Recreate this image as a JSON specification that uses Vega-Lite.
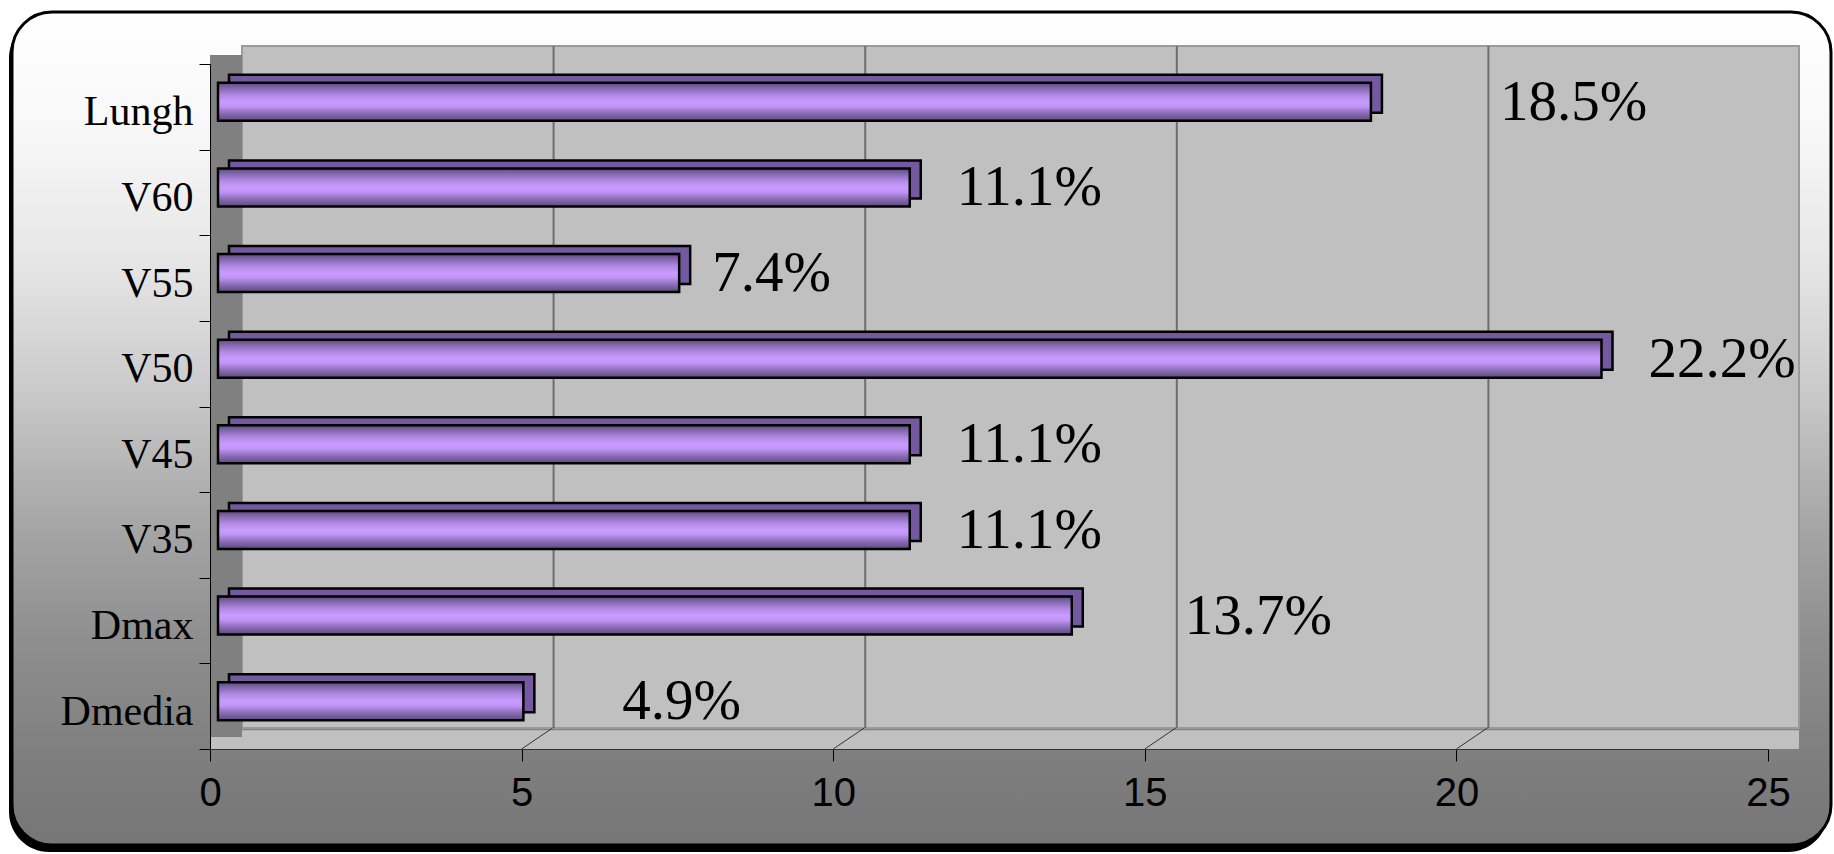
{
  "$schema": "https://vega.github.io/schema/vega-lite/v6.json",
  "autosize": {"type": "none"},
  "padding": {"left": 210, "top": 64, "right": 66, "bottom": 105},
  "width": 1558,
  "height": 685,
  "background": "white",
  "config": {"view": {"stroke": null}},
  "datasets": {
    "bars": [
      {"cat": "Lungh", "value": 18.5, "label": "18.5%"},
      {"cat": "V60", "value": 11.1, "label": "11.1%"},
      {"cat": "V55", "value": 7.4, "label": "7.4%"},
      {"cat": "V50", "value": 22.2, "label": "22.2%"},
      {"cat": "V45", "value": 11.1, "label": "11.1%"},
      {"cat": "V35", "value": 11.1, "label": "11.1%"},
      {"cat": "Dmax", "value": 13.7, "label": "13.7%"},
      {"cat": "Dmedia", "value": 4.9, "label": "4.9%"}
    ],
    "grid": [{"tick": 5}, {"tick": 10}, {"tick": 15}, {"tick": 20}],
    "one": [{}]
  },
  "resolve": {"scale": {"y": "independent"}, "axis": {"x": "independent", "y": "independent"}},
  "layer": [
    {
      "data": {"name": "one"},
      "layer": [
        {
          "mark": {"type": "rect", "fill": "#000000", "cornerRadius": 40},
          "encoding": {
            "x": {"datum": -3.2253, "type": "quantitative", "scale": {"domain": [0, 25], "nice": false, "zero": false}, "axis": null},
            "x2": {"datum": 25.9628},
            "y": {"datum": -0.5372, "type": "quantitative", "scale": {"domain": [0, 8], "reverse": true, "nice": false, "zero": false}, "axis": null},
            "y2": {"datum": 9.2029}
          }
        },
        {
          "mark": {
            "type": "rect", "cornerRadius": 40, "stroke": "#000000", "strokeWidth": 3,
            "fill": {"gradient": "linear", "x1": 0, "y1": 0, "x2": 0, "y2": 1, "stops": [
              {"offset": 0, "color": "#ffffff"},
              {"offset": 0.15, "color": "#f7f7f7"},
              {"offset": 0.3, "color": "#e6e6e6"},
              {"offset": 0.45, "color": "#cbcbcb"},
              {"offset": 0.6, "color": "#a9a9a9"},
              {"offset": 0.75, "color": "#8f8f8f"},
              {"offset": 0.9, "color": "#7e7e7e"},
              {"offset": 1, "color": "#767676"}
            ]}
          },
          "encoding": {
            "x": {"datum": -3.1772, "type": "quantitative", "scale": {"domain": [0, 25], "nice": false, "zero": false}, "axis": null},
            "x2": {"datum": 26.0109},
            "y": {"datum": -0.6073, "type": "quantitative", "scale": {"domain": [0, 8], "reverse": true, "nice": false, "zero": false}, "axis": null},
            "y2": {"datum": 9.1212}
          }
        },
        {
          "mark": {"type": "rect", "fill": "#c0c0c0", "stroke": "#9a9a9a", "strokeWidth": 2},
          "encoding": {
            "x": {"datum": 0.5135, "type": "quantitative", "scale": {"domain": [0, 25], "nice": false, "zero": false}, "axis": null},
            "x2": {"datum": 25.4974},
            "y": {"datum": -0.2102, "type": "quantitative", "scale": {"domain": [0, 8], "reverse": true, "nice": false, "zero": false}, "axis": null},
            "y2": {"datum": 7.7547}
          }
        },
        {
          "mark": {"type": "rect", "fill": "#c0c0c0"},
          "encoding": {
            "x": {"datum": 0, "type": "quantitative", "scale": {"domain": [0, 25], "nice": false, "zero": false}, "axis": null},
            "x2": {"datum": 25.4974},
            "y": {"datum": 7.78, "type": "quantitative", "scale": {"domain": [0, 8], "reverse": true, "nice": false, "zero": false}, "axis": null},
            "y2": {"datum": 8}
          }
        },
        {
          "mark": {"type": "rect", "fill": "#808080"},
          "encoding": {
            "x": {"datum": 0, "type": "quantitative", "scale": {"domain": [0, 25], "nice": false, "zero": false}, "axis": null},
            "x2": {"datum": 0.5135},
            "y": {"datum": -0.105, "type": "quantitative", "scale": {"domain": [0, 8], "reverse": true, "nice": false, "zero": false}, "axis": null},
            "y2": {"datum": 7.86}
          }
        },
        {
          "data": {"name": "grid"},
          "mark": {"type": "rule", "color": "#6e6e6e", "strokeWidth": 2, "xOffset": 32},
          "encoding": {
            "x": {"field": "tick", "type": "quantitative", "scale": {"domain": [0, 25], "nice": false, "zero": false}, "axis": null},
            "y": {"datum": -0.2102, "type": "quantitative", "scale": {"domain": [0, 8], "reverse": true, "nice": false, "zero": false}, "axis": null},
            "y2": {"datum": 7.7547}
          }
        },
        {
          "data": {"name": "grid"},
          "mark": {"type": "rule", "color": "#333333", "strokeWidth": 1, "x2Offset": 31},
          "encoding": {
            "x": {"field": "tick", "type": "quantitative", "scale": {"domain": [0, 25], "nice": false, "zero": false}, "axis": null},
            "x2": {"field": "tick"},
            "y": {"datum": 8, "type": "quantitative", "scale": {"domain": [0, 8], "reverse": true, "nice": false, "zero": false}, "axis": null},
            "y2": {"datum": 7.7547}
          }
        }
      ]
    },
    {
      "data": {"name": "bars"},
      "encoding": {
        "y": {
          "field": "cat", "type": "nominal", "sort": null,
          "scale": {"paddingInner": 0, "paddingOuter": 0},
          "axis": {
            "title": null, "zindex": 1, "tickBand": "extent",
            "labelFont": "Liberation Serif", "labelFontSize": 42, "labelColor": "#000000",
            "labelPadding": 6, "labelOffset": 5,
            "tickSize": 11, "tickColor": "#000000", "tickWidth": 1,
            "domainColor": "#000000", "domainWidth": 1, "grid": false
          }
        },
        "x": {
          "field": "value", "type": "quantitative",
          "scale": {"domain": [0, 25], "nice": false, "zero": false},
          "axis": {
            "title": null, "zindex": 1, "grid": false, "values": [0, 5, 10, 15, 20, 25],
            "labelFont": "Liberation Sans", "labelFontSize": 40, "labelColor": "#000000",
            "labelPadding": 12, "tickSize": 12, "tickColor": "#000000", "tickWidth": 1,
            "domainColor": "#333333", "domainWidth": 1, "labelFlush": false
          }
        }
      },
      "layer": [
        {
          "mark": {"type": "bar", "height": {"band": 0.444}, "xOffset": 19, "x2Offset": 21, "yOffset": -13, "fill": "#7559a0", "stroke": "#000000", "strokeWidth": 2.5}
        },
        {
          "mark": {
            "type": "bar", "height": {"band": 0.444}, "xOffset": 8, "x2Offset": 8, "yOffset": -5,
            "stroke": "#000000", "strokeWidth": 2.5,
            "fill": {"gradient": "linear", "x1": 0, "y1": 0, "x2": 0, "y2": 1, "stops": [
              {"offset": 0, "color": "#5c4a7c"},
              {"offset": 0.15, "color": "#876ab2"},
              {"offset": 0.33, "color": "#b38ae6"},
              {"offset": 0.5, "color": "#c99bff"},
              {"offset": 0.62, "color": "#c095f5"},
              {"offset": 0.8, "color": "#8c6db8"},
              {"offset": 1, "color": "#5c4a7c"}
            ]}
          }
        },
        {
          "transform": [{"filter": "indexof(['V60','V50','V45','V35'], datum.cat) >= 0"}],
          "mark": {"type": "text", "font": "Liberation Serif", "fontSize": 57, "color": "#000000", "align": "left", "baseline": "middle", "dx": 55, "dy": -4},
          "encoding": {"text": {"field": "label"}}
        },
        {
          "transform": [{"filter": "datum.cat == 'V55'"}],
          "mark": {"type": "text", "font": "Liberation Serif", "fontSize": 57, "color": "#000000", "align": "left", "baseline": "middle", "dx": 41, "dy": -4},
          "encoding": {"text": {"field": "label"}}
        },
        {
          "transform": [{"filter": "datum.cat == 'Lungh'"}],
          "mark": {"type": "text", "font": "Liberation Serif", "fontSize": 57, "color": "#000000", "align": "left", "baseline": "middle", "dx": 137, "dy": -4},
          "encoding": {"text": {"field": "label"}}
        },
        {
          "transform": [{"filter": "datum.cat == 'Dmax'"}],
          "mark": {"type": "text", "font": "Liberation Serif", "fontSize": 57, "color": "#000000", "align": "left", "baseline": "middle", "dx": 121, "dy": -4},
          "encoding": {"text": {"field": "label"}}
        },
        {
          "transform": [{"filter": "datum.cat == 'Dmedia'"}],
          "mark": {"type": "text", "font": "Liberation Serif", "fontSize": 57, "color": "#000000", "align": "left", "baseline": "middle", "dx": 107, "dy": -4},
          "encoding": {"text": {"field": "label"}}
        }
      ]
    }
  ]
}
